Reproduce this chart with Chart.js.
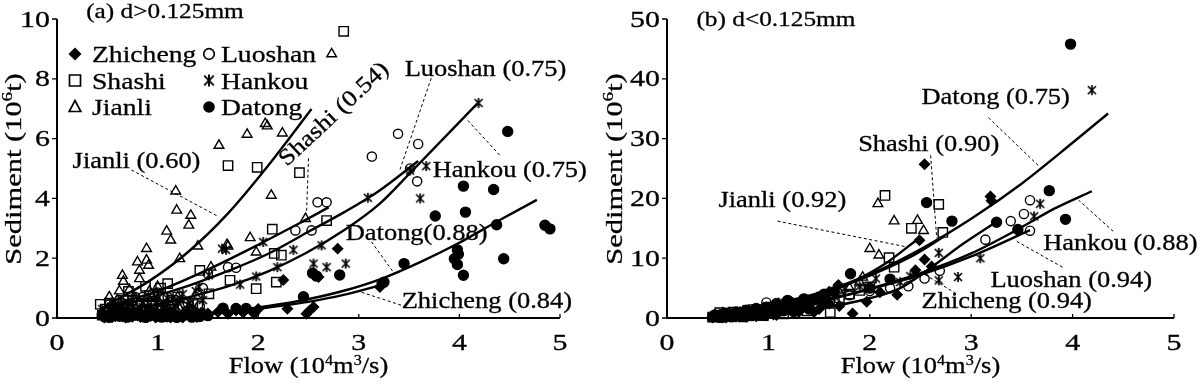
<!DOCTYPE html>
<html>
<head>
<meta charset="utf-8">
<script src="https://cdn.jsdelivr.net/npm/chart.js@4.4.1/dist/chart.umd.min.js"></script>
<style>
  html, body { margin: 0; padding: 0; background: #fff; }
  #wrap { position: relative; width: 1200px; height: 385px; }
  canvas { position: absolute; top: 0; }
  #chartA { left: 0; }
  #chartB { left: 600px; }
</style>
</head>
<body>
<div id="wrap">
  <canvas id="chartA" width="600" height="385"></canvas>
  <canvas id="chartB" width="600" height="385"></canvas>
</div>
<script>
// Eixos
const xTicks = [0, 1, 2, 3, 4, 5];
const yTicksA = [0, 2, 4, 6, 8, 10];
const yTicksB = [0, 10, 20, 30, 40, 50];
const stations = ['Zhicheng', 'Shashi', 'Jianli', 'Luoshan', 'Hankou', 'Datong'];

// (a) d>0.125mm  -- [flow, sediment]
const zhichengA = [[0.45,0.05],[0.47,0.02],[0.5,0.08],[0.52,0.12],[0.55,0.03],[0.58,0.06],[0.6,0.1],[0.63,0.15],[0.65,0.05],[0.68,0.02],[0.7,0.12],[0.73,0.08],[0.75,0.04],[0.78,0.15],[0.8,0.08],[0.83,0.03],[0.85,0.1],[0.88,0.13],[0.9,0.03],[0.93,0.07],[0.95,0.12],[0.98,0.02],[1.0,0.06],[1.03,0.15],[1.05,0.1],[1.08,0.08],[1.1,0.04],[1.13,0.02],[1.15,0.14],[1.18,0.1],[1.2,0.07],[1.25,0.02],[1.28,0.1],[1.32,0.13],[1.35,0.05],[1.39,0.03],[1.42,0.12],[1.5,0.15],[1.6,0.2],[1.7,0.14],[1.78,0.25],[1.85,0.18],[1.96,0.14],[2.0,0.3],[2.29,0.31],[2.48,0.14],[2.51,0.24],[2.55,0.37],[2.25,1.27],[2.6,1.37],[2.79,2.32],[3.21,1.04],[3.23,1.17]];
const shashiA = [[0.43,0.46],[0.45,0.1],[0.48,0.3],[0.52,0.5],[0.55,0.2],[0.6,0.45],[0.65,0.2],[0.7,0.35],[0.71,0.89],[0.75,0.6],[0.8,0.5],[0.85,0.25],[0.88,1.06],[0.92,0.75],[0.95,0.4],[1.03,1.0],[1.05,0.4],[1.1,1.15],[1.15,0.6],[1.2,0.7],[1.25,0.35],[1.3,0.2],[1.35,0.5],[1.4,0.45],[1.42,1.59],[1.51,0.81],[1.72,1.26],[1.70,5.10],[1.98,0.98],[1.99,5.04],[2.14,2.97],[2.16,2.16],[2.18,1.2],[2.23,2.1],[2.41,4.86],[2.68,3.26],[2.85,9.59]];
const jianliA = [[0.47,0.15],[0.5,0.3],[0.52,0.7],[0.55,0.5],[0.58,0.25],[0.6,0.6],[0.62,0.9],[0.65,1.42],[0.66,1.22],[0.68,0.4],[0.72,0.95],[0.75,0.5],[0.78,0.65],[0.8,1.87],[0.82,1.59],[0.82,1.31],[0.85,0.35],[0.89,1.93],[0.89,2.32],[0.91,1.76],[0.92,0.9],[0.95,0.7],[1.0,1.05],[1.02,0.5],[1.09,2.9],[1.1,0.3],[1.13,2.6],[1.18,4.24],[1.19,3.6],[1.2,0.7],[1.22,1.98],[1.31,3.1],[1.33,3.43],[1.40,2.4],[1.53,1.7],[1.61,5.77],[1.69,2.45],[1.70,2.4],[1.89,6.14],[1.92,2.68],[1.98,2.2],[2.07,6.5],[2.09,6.42],[2.13,4.1],[2.24,6.18],[2.47,3.32],[2.73,8.83]];
const luoshanA = [[0.47,0.1],[0.5,0.2],[0.52,0.45],[0.55,0.35],[0.58,0.15],[0.6,0.3],[0.62,0.6],[0.65,0.5],[0.68,0.2],[0.7,0.4],[0.73,0.3],[0.75,0.6],[0.78,0.7],[0.8,0.45],[0.83,0.25],[0.85,0.7],[0.88,0.4],[0.9,0.6],[0.93,0.2],[0.95,0.8],[0.98,0.5],[1.0,0.85],[1.03,0.3],[1.05,0.75],[1.08,0.45],[1.1,0.7],[1.13,0.2],[1.15,0.55],[1.18,0.6],[1.2,0.3],[1.25,0.4],[1.3,0.5],[1.35,0.25],[1.4,0.8],[1.42,0.4],[1.45,1.0],[1.50,1.48],[1.70,1.70],[1.78,1.68],[2.37,2.93],[2.53,2.93],[2.59,3.87],[2.68,3.87],[3.13,5.4],[3.39,6.16],[3.51,5.0],[3.59,5.82],[3.58,4.57]];
const hankouA = [[0.45,0.3],[0.48,0.1],[0.52,0.05],[0.55,0.25],[0.58,0.45],[0.6,0.15],[0.63,0.1],[0.65,0.4],[0.7,0.3],[0.72,0.5],[0.75,0.1],[0.78,0.2],[0.82,0.35],[0.85,0.5],[0.88,0.15],[0.9,0.35],[0.94,0.25],[0.98,0.55],[1.0,0.15],[1.05,0.3],[1.08,0.45],[1.1,0.65],[1.14,0.2],[1.18,0.4],[1.2,0.55],[1.25,0.8],[1.28,0.25],[1.32,0.5],[1.35,0.35],[1.38,0.9],[1.41,1.04],[1.43,0.2],[1.45,0.6],[1.51,1.43],[1.64,2.32],[1.68,2.28],[1.82,1.12],[1.98,1.39],[2.05,2.54],[2.19,1.7],[2.35,2.28],[2.55,1.82],[2.63,2.43],[2.68,1.70],[2.87,1.82],[3.09,4.02],[3.51,4.93],[3.61,4.0],[3.67,5.08],[4.19,7.19]];
const datongA = [[0.45,0.12],[0.48,0.04],[0.52,0.02],[0.55,0.1],[0.58,0.15],[0.62,0.06],[0.66,0.12],[0.7,0.03],[0.74,0.08],[0.78,0.1],[0.81,0.15],[0.85,0.05],[0.88,0.02],[0.92,0.08],[0.96,0.15],[1.0,0.12],[1.04,0.03],[1.08,0.05],[1.12,0.17],[1.15,0.1],[1.19,0.02],[1.22,0.06],[1.26,0.1],[1.3,0.14],[1.34,0.03],[1.38,0.08],[1.42,0.05],[1.45,0.12],[1.5,0.08],[1.65,0.33],[1.78,0.32],[1.88,0.32],[2.45,0.71],[2.54,1.5],[2.58,1.4],[2.81,1.44],[3.25,1.2],[3.45,1.82],[3.76,3.41],[3.95,1.98],[3.98,2.28],[3.99,2.13],[3.98,1.79],[4.04,1.43],[4.04,4.41],[4.06,3.54],[4.34,4.30],[4.37,3.12],[4.44,1.98],[4.48,6.24],[4.85,3.10],[4.90,2.98]];

// fitted curves
const fitZhichengA = [[0.5,0.02],[0.96,0.04],[1.34,0.09],[1.72,0.2],[2.1,0.35],[2.48,0.53],[2.86,0.78],[3.22,1.1]];
const fitShashiA = [[0.45,0.35],[1.0,0.9],[1.5,1.62],[2.0,2.45],[2.4,3.15],[2.7,3.7]];
const fitJianliA = [[0.5,0.45],[0.9,1.2],[1.3,2.2],[1.7,3.5],[2.1,5.1],[2.53,6.99]];
const fitLuoshanA = [[0.5,0.3],[0.96,0.72],[1.34,1.12],[1.72,1.6],[2.1,2.15],[2.48,2.85],[2.86,3.55],[3.2,4.25],[3.59,5.25]];
const fitHankouA = [[0.5,0.15],[0.96,0.42],[1.34,0.72],[1.72,1.08],[2.1,1.56],[2.48,2.18],[2.86,2.95],[3.2,3.8],[3.51,4.85],[4.18,7.18]];
const fitDatongA = [[0.5,0.03],[1.0,0.08],[1.34,0.12],[1.72,0.23],[2.1,0.4],[2.48,0.62],[2.86,0.92],[3.23,1.32],[3.61,1.87],[3.99,2.5],[4.37,3.22],[4.77,3.95]];

// (b) d<0.125mm
const zhichengB = [[0.45,0.1],[0.47,0.4],[0.5,0.2],[0.52,0.6],[0.55,0.1],[0.58,0.1],[0.6,0.3],[0.62,0.8],[0.65,0.2],[0.68,0.2],[0.7,0.4],[0.72,1.0],[0.75,0.3],[0.78,0.2],[0.8,0.5],[0.82,1.1],[0.85,0.4],[0.88,0.3],[0.9,0.6],[0.93,1.3],[0.95,0.5],[0.98,0.4],[1.0,0.8],[1.03,1.5],[1.05,0.6],[1.08,0.5],[1.1,1.0],[1.15,1.7],[1.2,1.3],[1.25,0.8],[1.3,1.0],[1.35,2.0],[1.4,1.8],[1.45,1.0],[1.5,1.5],[1.55,2.6],[1.6,2.4],[1.7,2.0],[1.60,4.4],[1.69,5.5],[1.83,0.75],[1.97,2.7],[2.1,4.3],[2.27,3.9],[2.45,8.0],[2.49,13.0],[2.54,9.8],[2.61,8.6],[2.54,25.7],[3.19,20.3],[3.2,19.6]];
const shashiB = [[0.45,0.15],[0.5,0.3],[0.52,0.9],[0.55,0.2],[0.6,0.4],[0.65,1.0],[0.7,0.5],[0.75,0.2],[0.8,0.7],[0.85,1.4],[0.9,0.9],[0.95,0.4],[1.0,1.1],[1.05,1.8],[1.1,1.3],[1.15,0.7],[1.2,1.6],[1.3,1.9],[1.38,1.2],[1.45,2.2],[1.55,2.6],[1.61,0.9],[1.65,3.0],[1.7,3.4],[1.8,4.0],[1.9,4.6],[2.0,5.2],[2.15,20.5],[2.19,10.1],[2.24,8.5],[2.41,15.0],[2.68,19.0],[2.72,14.3]];
const jianliB = [[0.45,0.2],[0.5,0.3],[0.55,0.8],[0.6,0.4],[0.65,0.2],[0.7,0.6],[0.75,1.1],[0.8,0.8],[0.85,0.4],[0.9,1.0],[0.95,1.6],[1.0,1.3],[1.05,0.7],[1.1,1.6],[1.15,2.2],[1.2,1.9],[1.3,2.3],[1.4,2.8],[1.5,3.2],[1.6,3.9],[1.7,4.3],[1.8,5.0],[1.9,6.0],[1.93,6.8],[2.0,11.6],[2.08,19.1],[2.09,10.5],[2.24,16.2],[2.47,16.3],[2.53,14.6]];
const luoshanB = [[0.45,0.2],[0.5,0.3],[0.55,0.7],[0.6,0.5],[0.65,0.2],[0.7,0.7],[0.75,1.0],[0.8,0.9],[0.85,0.5],[0.9,1.2],[0.95,1.6],[0.98,2.6],[1.0,1.4],[1.05,0.9],[1.1,1.7],[1.2,2.0],[1.3,2.3],[1.4,2.6],[1.5,2.9],[1.6,3.3],[1.8,3.8],[2.0,4.5],[2.2,5.0],[2.38,5.3],[2.54,6.6],[2.69,7.9],[3.14,13.1],[3.39,16.2],[3.52,17.4],[3.58,14.6],[3.58,19.7]];
const hankouB = [[0.45,0.1],[0.5,0.2],[0.55,0.6],[0.6,0.4],[0.65,0.9],[0.7,0.6],[0.75,0.3],[0.8,0.8],[0.85,1.2],[0.9,1.0],[0.95,0.5],[1.0,1.6],[1.05,1.1],[1.1,2.6],[1.2,2.3],[1.28,1.4],[1.35,2.0],[1.5,3.0],[1.65,3.6],[1.75,5.0],[1.9,5.3],[2.06,6.6],[2.3,6.0],[2.4,7.0],[2.68,6.3],[2.68,10.9],[2.87,6.85],[3.09,10.0],[3.62,17.0],[3.68,19.1],[4.19,38.1]];
const datongB = [[0.45,0.2],[0.47,0.5],[0.5,0.3],[0.52,0.1],[0.55,0.2],[0.58,0.8],[0.6,0.5],[0.63,0.2],[0.65,0.4],[0.68,1.0],[0.7,0.7],[0.73,0.3],[0.75,0.5],[0.78,1.3],[0.8,0.9],[0.83,0.4],[0.85,0.7],[0.88,1.6],[0.9,1.2],[0.93,0.6],[0.95,1.0],[0.98,1.8],[1.02,0.8],[1.05,1.5],[1.08,2.4],[1.12,2.0],[1.15,1.2],[1.19,2.95],[1.22,2.6],[1.3,2.2],[1.35,3.2],[1.4,1.5],[1.45,3.0],[1.5,3.5],[1.55,4.0],[1.65,4.4],[1.81,7.4],[2.0,5.0],[2.2,6.5],[2.56,19.3],[2.81,16.2],[3.25,16.0],[3.46,14.8],[3.77,21.3],[3.93,16.5],[3.98,45.8]];

const fitZhichengB = [[0.5,0.1],[1.0,0.6],[1.5,1.6],[2.0,3.3],[2.3,5.0],[2.6,8.4],[2.92,12.4],[3.25,16.1]];
const fitShashiB = [[0.5,0.5],[1.0,1.9],[1.5,4.0],[2.0,7.1],[2.4,10.2],[2.73,13.6]];
const fitJianliB = [[0.5,0.4],[1.0,1.6],[1.5,3.8],[1.8,5.8],[2.17,9.3],[2.48,13.3]];
const fitLuoshanB = [[0.5,0.3],[1.0,1.3],[1.5,2.8],[2.0,4.8],[2.5,7.2],[3.0,10.3],[3.58,14.7]];
const fitHankouB = [[0.5,0.3],[1.0,1.2],[1.5,2.7],[2.0,4.9],[2.5,7.5],[3.0,10.8],[3.5,15.2],[3.81,18.2],[4.19,21.2]];
const fitDatongB = [[0.5,0.6],[1.0,2.2],[1.5,4.2],[2.0,7.3],[2.5,11.5],[3.0,16.6],[3.5,22.5],[4.0,29.3],[4.35,34.2]];

// labels with correlation and the dashed pointer (in data units)
const notesA = [
  { text: 'Jianli (0.60)', at: [0.155, 5.02], from: [0.74, 4.95], to: [1.6, 3.4] },
  { text: 'Shashi (0.54)', at: [2.285, 5.05], rot: -43, from: [2.50, 5.34], to: [2.48, 3.45] },
  { text: 'Luoshan (0.75)', at: [3.456, 8.09], from: [3.72, 8.02], to: [3.41, 4.97] },
  { text: 'Hankou (0.75)', at: [3.734, 4.72], from: [4.40, 5.45], to: [4.08, 6.62] },
  { text: 'Datong(0.88)', at: [2.87, 2.61], from: [3.125, 2.55], to: [3.34, 1.55] },
  { text: 'Zhicheng (0.84)', at: [3.426, 0.334], from: [3.42, 0.43], to: [3.01, 0.88] }
];
const notesB = [
  { text: 'Datong (0.75)', at: [2.51, 35.8], from: [3.17, 33.5], to: [3.68, 25.2] },
  { text: 'Shashi (0.90)', at: [1.885, 28.0], from: [2.60, 27.2], to: [2.66, 13.3] },
  { text: 'Jianli (0.92)', at: [0.507, 18.6], from: [1.09, 16.2], to: [2.36, 11.9] },
  { text: 'Hankou (0.88)', at: [3.71, 11.4], from: [4.40, 14.5], to: [4.06, 19.7] },
  { text: 'Luoshan (0.94)', at: [3.19, 5.23], from: [3.90, 8.5], to: [3.43, 13.0] },
  { text: 'Zhicheng (0.94)', at: [2.51, 1.67], from: [2.85, 4.1], to: [2.53, 7.4] }
];

const SX = 1.15; // as letras do original são um pouco largas
const FONT = '"Liberation Serif", "Times New Roman", serif';

function makeStar(size, lw) {
  const c = document.createElement('canvas');
  c.width = c.height = size;
  const g = c.getContext('2d');
  const m = size / 2, r = size / 2 - 1;
  g.strokeStyle = '#000';
  g.lineWidth = lw;
  g.beginPath();
  g.moveTo(m - r * 0.8, m - r * 0.8); g.lineTo(m + r * 0.8, m + r * 0.8);
  g.moveTo(m + r * 0.8, m - r * 0.8); g.lineTo(m - r * 0.8, m + r * 0.8);
  g.moveTo(m, m - r); g.lineTo(m, m + r);
  g.stroke();
  return c;
}
const starImg = makeStar(12, 1.7);
const starBig = makeStar(14, 1.9);

const marks = {
  Zhicheng: { style: 'rectRot', r: 5, fill: '#000' },
  Shashi: { style: 'rect', r: 6.6, fill: 'rgba(0,0,0,0)' },
  Jianli: { style: 'triangle', r: 5.6, fill: 'rgba(0,0,0,0)' },
  Luoshan: { style: 'circle', r: 4.6, fill: 'rgba(0,0,0,0)' },
  Hankou: { style: starImg, r: 5, fill: '#000' },
  Datong: { style: 'circle', r: 5, fill: '#000' }
};

function pts(arr) {
  return arr.map(p => ({ x: p[0], y: p[1] }));
}

function scatterSet(name, arr) {
  const m = marks[name];
  return {
    label: name, data: pts(arr), showLine: false,
    pointStyle: m.style, pointRadius: m.r, pointBackgroundColor: m.fill,
    pointBorderColor: '#000', pointBorderWidth: 1.4, clip: false
  };
}

function curveSet(name, arr) {
  return {
    label: name + ' fit', data: pts(arr), showLine: true, pointRadius: 0,
    borderColor: '#000', borderWidth: 2.4, cubicInterpolationMode: 'monotone', clip: false
  };
}

// texto com sobrescrito entre chaves: 10{6}
function drawText(ctx, s, x, y, size, align, angle, sx) {
  const bits = s.split(/[{}]/);
  const big = size + 'px ' + FONT, small = Math.round(size * 0.62) + 'px ' + FONT;
  ctx.save();
  ctx.translate(x, y);
  if (angle) ctx.rotate(angle);
  ctx.scale(sx || SX, 1);
  ctx.fillStyle = '#000';
  ctx.strokeStyle = '#000';
  ctx.lineWidth = 0.3;
  ctx.textBaseline = 'alphabetic';
  ctx.textAlign = 'left';
  let w = 0;
  bits.forEach((b, i) => { ctx.font = i % 2 ? small : big; w += ctx.measureText(b).width; });
  let cx = align === 'center' ? -w / 2 : (align === 'right' ? -w : 0);
  bits.forEach((b, i) => {
    ctx.font = i % 2 ? small : big;
    const dy = i % 2 ? -size * 0.36 : 0;
    ctx.fillText(b, cx, dy);
    ctx.strokeText(b, cx, dy);
    cx += ctx.measureText(b).width;
  });
  ctx.restore();
}

function drawMarker(ctx, name, x, y) {
  ctx.save();
  ctx.strokeStyle = '#000';
  ctx.fillStyle = '#000';
  ctx.lineWidth = 1.7;
  ctx.beginPath();
  if (name === 'Zhicheng') {
    ctx.moveTo(x, y - 6.5); ctx.lineTo(x + 6.5, y); ctx.lineTo(x, y + 6.5); ctx.lineTo(x - 6.5, y); ctx.closePath(); ctx.fill();
  } else if (name === 'Shashi') {
    ctx.rect(x - 5.5, y - 5.5, 11, 11); ctx.stroke();
  } else if (name === 'Jianli') {
    ctx.moveTo(x, y - 6.5); ctx.lineTo(x + 5.8, y + 4.5); ctx.lineTo(x - 5.8, y + 4.5); ctx.closePath(); ctx.stroke();
  } else if (name === 'Luoshan') {
    ctx.arc(x, y, 5.3, 0, Math.PI * 2); ctx.stroke();
  } else if (name === 'Hankou') {
    ctx.drawImage(starBig, x - 7, y - 7);
  } else {
    ctx.arc(x, y, 5.8, 0, Math.PI * 2); ctx.fill();
  }
  ctx.restore();
}

const framePlugin = {
  id: 'frame',
  afterDatasetsDraw(chart, args, o) {
    const ctx = chart.ctx, xs = chart.scales.x, ys = chart.scales.y;
    const X = v => xs.getPixelForValue(v), Y = v => ys.getPixelForValue(v);
    const x0 = X(0), x5 = X(5), y0 = Y(0), yT = Y(o.yTicks[o.yTicks.length - 1]);

    ctx.save();
    ctx.strokeStyle = '#000';
    ctx.lineWidth = 2;
    ctx.beginPath();
    ctx.moveTo(x0, yT); ctx.lineTo(x0, y0); ctx.lineTo(x5, y0);
    ctx.stroke();
    ctx.lineWidth = 1.3;
    ctx.beginPath();
    o.yTicks.forEach(v => { ctx.moveTo(x0 - 5, Y(v)); ctx.lineTo(x0, Y(v)); });
    xTicks.forEach(v => { ctx.moveTo(X(v), y0); ctx.lineTo(X(v), y0 - 4); });
    ctx.stroke();

    o.yTicks.forEach(v => drawText(ctx, String(v), x0 - 7, Y(v) + 7.5, 23, 'right', 0, 1.3));
    xTicks.forEach(v => drawText(ctx, String(v), X(v), 350, 23, 'center', 0, 1.3));
    drawText(ctx, 'Flow (10{4}m{3}/s)', (x0 + x5) / 2, 373, 23, 'center');
    drawText(ctx, 'Sediment (10{6}t)', o.yTitleX, 169, 24, 'center', -Math.PI / 2, 1.27);
    drawText(ctx, o.title, X(o.titleAt[0]), Y(o.titleAt[1]), 22, 'left');

    // pointers
    ctx.lineWidth = 1;
    ctx.setLineDash([3, 2.5]);
    ctx.beginPath();
    o.notes.forEach(n => { ctx.moveTo(X(n.from[0]), Y(n.from[1])); ctx.lineTo(X(n.to[0]), Y(n.to[1])); });
    ctx.stroke();
    ctx.setLineDash([]);
    o.notes.forEach(n => drawText(ctx, n.text, X(n.at[0]), Y(n.at[1]), 23, 'left', n.rot ? n.rot * Math.PI / 180 : 0));

    if (o.legend) {
      const L = chart.chartArea.left, T = chart.chartArea.top;
      const rows = [35, 61.5, 88];
      stations.forEach((s, i) => {
        const col = Math.floor(i / 3), row = i % 3;
        const mx = L + (col ? 152 : 18), tx = L + (col ? 164 : 35);
        drawMarker(ctx, s, mx, T + rows[row]);
        drawText(ctx, s, tx, T + rows[row] + 8, 24, 'left');
      });
    }
    ctx.restore();
  }
};

function makeChart(id, sets, fits, cfg) {
  const datasets = [];
  stations.forEach((s, i) => { if (fits[i]) datasets.push(curveSet(s, fits[i])); });
  stations.forEach((s, i) => datasets.push(scatterSet(s, sets[i])));
  new Chart(document.getElementById(id), {
    type: 'scatter',
    data: { datasets: datasets },
    options: {
      responsive: false,
      animation: false,
      devicePixelRatio: 1,
      events: [],
      layout: { padding: cfg.pad },
      scales: {
        x: { type: 'linear', min: 0, max: 5, display: false },
        y: { type: 'linear', min: 0, max: cfg.yTicks[cfg.yTicks.length - 1], display: false }
      },
      plugins: {
        legend: { display: false },
        tooltip: { enabled: false },
        frame: cfg
      }
    },
    plugins: [framePlugin]
  });
}

makeChart('chartA',
  [zhichengA, shashiA, jianliA, luoshanA, hankouA, datongA],
  [fitZhichengA, fitShashiA, fitJianliA, fitLuoshanA, fitHankouA, fitDatongA],
  { pad: { left: 57, right: 40, top: 19, bottom: 67 }, yTicks: yTicksA, notes: notesA,
    title: '(a) d>0.125mm', titleAt: [0.29, 10.05], yTitleX: 21, legend: true });

makeChart('chartB',
  [zhichengB, shashiB, jianliB, luoshanB, hankouB, datongB],
  [fitZhichengB, fitShashiB, fitJianliB, fitLuoshanB, fitHankouB, fitDatongB],
  { pad: { left: 67, right: 26, top: 19, bottom: 67 }, yTicks: yTicksB, notes: notesB,
    title: '(b) d<0.125mm', titleAt: [0.29, 48.8], yTitleX: 22, legend: false });
</script>
</body>
</html>
